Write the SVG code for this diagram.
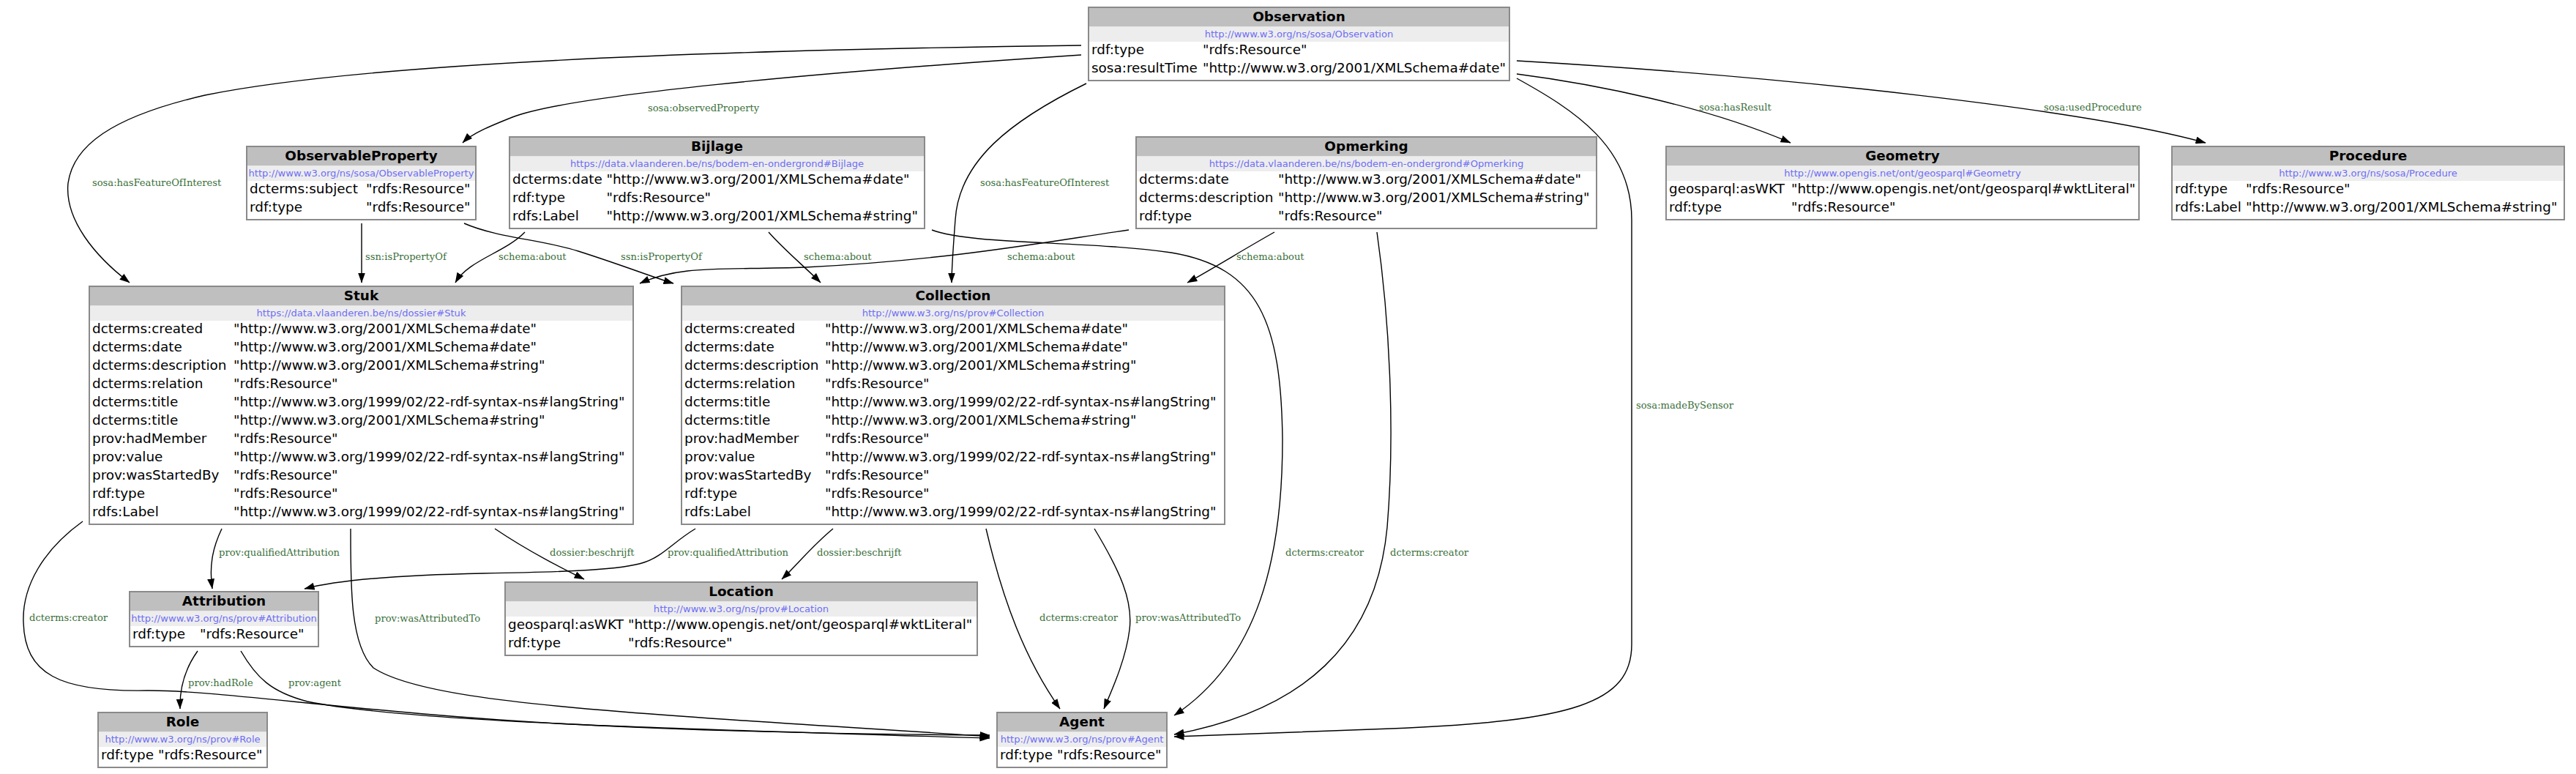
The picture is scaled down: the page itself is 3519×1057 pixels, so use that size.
<svg xmlns="http://www.w3.org/2000/svg" width="3519" height="1057" viewBox="0 0 3519 1057">
<style>
.box{fill:#fff;stroke:#8a8a8a;stroke-width:2}
.hdr{fill:#bfbfbf}
.ubg{fill:#ededed}
.title{font-family:"DejaVu Sans",sans-serif;font-weight:bold;font-size:18.4px;text-anchor:middle;fill:#000}
.url{font-family:"DejaVu Sans",sans-serif;font-size:13.1px;text-anchor:middle;fill:#6e6ef5}
.attr{font-family:"DejaVu Sans",sans-serif;font-size:18.4px;fill:#000}
.edge{fill:none;stroke:#000;stroke-width:1.4;marker-end:url(#arrow)}
.lbl{font-family:"DejaVu Serif",serif;font-size:13.1px;fill:#3b703b}
</style>
<defs>
<marker id="arrow" viewBox="0 0 14 10" refX="13.5" refY="5" markerWidth="14" markerHeight="10" markerUnits="userSpaceOnUse" orient="auto"><path d="M0,0 L14,5 L0,10 z" fill="#000"/></marker>
</defs>
<rect width="3519" height="1057" fill="#fff"/>
<g id="edges">
<path class="edge" d="M1477,62 C1000,68 500,85 280,130 C150,160 100,200 93,250 C88,300 130,350 177,386"/>
<text class="lbl" x="126" y="254">sosa:hasFeatureOfInterest</text>
<path class="edge" d="M1477,75 C1100,100 780,130 700,160 C670,172 645,182 632,195"/>
<text class="lbl" x="885" y="152">sosa:observedProperty</text>
<path class="edge" d="M1484,114 C1380,165 1310,220 1305,300 C1302,340 1300,365 1300,386"/>
<text class="lbl" x="1339" y="254">sosa:hasFeatureOfInterest</text>
<path class="edge" d="M494,305 L494,386"/>
<text class="lbl" x="499" y="355">ssn:isPropertyOf</text>
<path class="edge" d="M634,305 C680,325 740,327 790,343 C850,362 890,378 920,387"/>
<text class="lbl" x="848" y="355">ssn:isPropertyOf</text>
<path class="edge" d="M717,317 C690,345 640,355 622,386"/>
<text class="lbl" x="681" y="355">schema:about</text>
<path class="edge" d="M1050,317 C1070,340 1100,365 1121,386"/>
<text class="lbl" x="1098" y="355">schema:about</text>
<path class="edge" d="M1542,314 C1430,330 1300,355 1100,365 C980,369 930,362 874,387"/>
<text class="lbl" x="1376" y="355">schema:about</text>
<path class="edge" d="M1741,317 C1700,340 1660,365 1622,386"/>
<text class="lbl" x="1689" y="355">schema:about</text>
<path class="edge" d="M1273,314 C1330,335 1480,328 1600,345 C1720,365 1750,440 1752,600 C1752,760 1720,900 1604,977"/>
<text class="lbl" x="1756" y="759">dcterms:creator</text>
<path class="edge" d="M1881,317 C1900,450 1905,600 1895,720 C1880,880 1780,970 1604,1003"/>
<text class="lbl" x="1899" y="759">dcterms:creator</text>
<path class="edge" d="M2072,107 C2150,150 2229,200 2229,300 L2229,880 C2229,960 2150,985 1900,995 C1750,1000 1650,1005 1604,1006"/>
<text class="lbl" x="2235" y="558">sosa:madeBySensor</text>
<path class="edge" d="M2072,101 C2180,115 2330,145 2446,195"/>
<text class="lbl" x="2321" y="151">sosa:hasResult</text>
<path class="edge" d="M2072,83 C2450,105 2850,150 3013,195"/>
<text class="lbl" x="2792" y="151">sosa:usedProcedure</text>
<path class="edge" d="M303,722 C292,745 285,770 290,804"/>
<text class="lbl" x="299" y="759">prov:qualifiedAttribution</text>
<path class="edge" d="M950,722 C920,740 905,760 880,768 C850,778 780,781 660,783 C560,785 470,790 416,804"/>
<text class="lbl" x="912" y="759">prov:qualifiedAttribution</text>
<path class="edge" d="M676,722 C710,745 755,770 798,791"/>
<text class="lbl" x="751" y="759">dossier:beschrijft</text>
<path class="edge" d="M1138,722 C1110,745 1090,770 1068,791"/>
<text class="lbl" x="1116" y="759">dossier:beschrijft</text>
<path class="edge" d="M113,712 C60,750 30,800 32,850 C34,920 80,945 200,943 C300,942 500,975 800,990 C1000,1000 1200,1003 1352,1004"/>
<text class="lbl" x="40" y="848">dcterms:creator</text>
<path class="edge" d="M479,722 C479,800 478,880 510,912 C560,945 700,960 850,972 C1050,988 1250,998 1352,1006"/>
<text class="lbl" x="512" y="849">prov:wasAttributedTo</text>
<path class="edge" d="M270,889 C255,910 245,935 246,968"/>
<text class="lbl" x="257" y="937">prov:hadRole</text>
<path class="edge" d="M329,889 C350,925 370,945 420,958 C550,985 900,995 1352,1008"/>
<text class="lbl" x="394" y="937">prov:agent</text>
<path class="edge" d="M1347,722 C1370,820 1400,900 1448,968"/>
<text class="lbl" x="1420" y="848">dcterms:creator</text>
<path class="edge" d="M1495,722 C1530,780 1548,820 1543,860 C1538,900 1520,940 1508,968"/>
<text class="lbl" x="1551" y="848">prov:wasAttributedTo</text>
</g>
<g id="node-Observation">
<rect class="box" x="1487" y="10" width="575" height="100"/>
<rect class="hdr" x="1488" y="11" width="573" height="25.5"/>
<rect class="ubg" x="1488" y="36.5" width="573" height="20.5"/>
<text class="title" x="1774.5" y="29">Observation</text>
<text class="url" x="1774.5" y="51">http://www.w3.org/ns/sosa/Observation</text>
<text class="attr" x="1491" y="74">rdf:type</text><text class="attr" x="1643" y="74">"rdfs:Resource"</text>
<text class="attr" x="1491" y="99">sosa:resultTime</text><text class="attr" x="1643" y="99">"http://www.w3.org/2001/XMLSchema#date"</text>
</g>
<g id="node-ObservableProperty">
<rect class="box" x="337" y="200" width="313" height="100"/>
<rect class="hdr" x="338" y="201" width="311" height="25.5"/>
<rect class="ubg" x="338" y="226.5" width="311" height="20.5"/>
<text class="title" x="493.5" y="219">ObservableProperty</text>
<text class="url" x="493.5" y="241">http://www.w3.org/ns/sosa/ObservableProperty</text>
<text class="attr" x="341" y="264">dcterms:subject</text><text class="attr" x="500" y="264">"rdfs:Resource"</text>
<text class="attr" x="341" y="289">rdf:type</text><text class="attr" x="500" y="289">"rdfs:Resource"</text>
</g>
<g id="node-Bijlage">
<rect class="box" x="696" y="187" width="567" height="125"/>
<rect class="hdr" x="697" y="188" width="565" height="25.5"/>
<rect class="ubg" x="697" y="213.5" width="565" height="20.5"/>
<text class="title" x="979.5" y="206">Bijlage</text>
<text class="url" x="979.5" y="228">https://data.vlaanderen.be/ns/bodem-en-ondergrond#Bijlage</text>
<text class="attr" x="700" y="251">dcterms:date</text><text class="attr" x="828.5" y="251">"http://www.w3.org/2001/XMLSchema#date"</text>
<text class="attr" x="700" y="276">rdf:type</text><text class="attr" x="828.5" y="276">"rdfs:Resource"</text>
<text class="attr" x="700" y="301">rdfs:Label</text><text class="attr" x="828.5" y="301">"http://www.w3.org/2001/XMLSchema#string"</text>
</g>
<g id="node-Opmerking">
<rect class="box" x="1552" y="187" width="629" height="125"/>
<rect class="hdr" x="1553" y="188" width="627" height="25.5"/>
<rect class="ubg" x="1553" y="213.5" width="627" height="20.5"/>
<text class="title" x="1866.5" y="206">Opmerking</text>
<text class="url" x="1866.5" y="228">https://data.vlaanderen.be/ns/bodem-en-ondergrond#Opmerking</text>
<text class="attr" x="1556" y="251">dcterms:date</text><text class="attr" x="1746" y="251">"http://www.w3.org/2001/XMLSchema#date"</text>
<text class="attr" x="1556" y="276">dcterms:description</text><text class="attr" x="1746" y="276">"http://www.w3.org/2001/XMLSchema#string"</text>
<text class="attr" x="1556" y="301">rdf:type</text><text class="attr" x="1746" y="301">"rdfs:Resource"</text>
</g>
<g id="node-Geometry">
<rect class="box" x="2276" y="200" width="646" height="100"/>
<rect class="hdr" x="2277" y="201" width="644" height="25.5"/>
<rect class="ubg" x="2277" y="226.5" width="644" height="20.5"/>
<text class="title" x="2599" y="219">Geometry</text>
<text class="url" x="2599" y="241">http://www.opengis.net/ont/geosparql#Geometry</text>
<text class="attr" x="2280" y="264">geosparql:asWKT</text><text class="attr" x="2447" y="264">"http://www.opengis.net/ont/geosparql#wktLiteral"</text>
<text class="attr" x="2280" y="289">rdf:type</text><text class="attr" x="2447" y="289">"rdfs:Resource"</text>
</g>
<g id="node-Procedure">
<rect class="box" x="2967" y="200" width="536" height="100"/>
<rect class="hdr" x="2968" y="201" width="534" height="25.5"/>
<rect class="ubg" x="2968" y="226.5" width="534" height="20.5"/>
<text class="title" x="3235" y="219">Procedure</text>
<text class="url" x="3235" y="241">http://www.w3.org/ns/sosa/Procedure</text>
<text class="attr" x="2971" y="264">rdf:type</text><text class="attr" x="3068" y="264">"rdfs:Resource"</text>
<text class="attr" x="2971" y="289">rdfs:Label</text><text class="attr" x="3068" y="289">"http://www.w3.org/2001/XMLSchema#string"</text>
</g>
<g id="node-Stuk">
<rect class="box" x="122" y="391" width="743" height="325"/>
<rect class="hdr" x="123" y="392" width="741" height="25.5"/>
<rect class="ubg" x="123" y="417.5" width="741" height="20.5"/>
<text class="title" x="493.5" y="410">Stuk</text>
<text class="url" x="493.5" y="432">https://data.vlaanderen.be/ns/dossier#Stuk</text>
<text class="attr" x="126" y="455">dcterms:created</text><text class="attr" x="319" y="455">"http://www.w3.org/2001/XMLSchema#date"</text>
<text class="attr" x="126" y="480">dcterms:date</text><text class="attr" x="319" y="480">"http://www.w3.org/2001/XMLSchema#date"</text>
<text class="attr" x="126" y="505">dcterms:description</text><text class="attr" x="319" y="505">"http://www.w3.org/2001/XMLSchema#string"</text>
<text class="attr" x="126" y="530">dcterms:relation</text><text class="attr" x="319" y="530">"rdfs:Resource"</text>
<text class="attr" x="126" y="555">dcterms:title</text><text class="attr" x="319" y="555">"http://www.w3.org/1999/02/22-rdf-syntax-ns#langString"</text>
<text class="attr" x="126" y="580">dcterms:title</text><text class="attr" x="319" y="580">"http://www.w3.org/2001/XMLSchema#string"</text>
<text class="attr" x="126" y="605">prov:hadMember</text><text class="attr" x="319" y="605">"rdfs:Resource"</text>
<text class="attr" x="126" y="630">prov:value</text><text class="attr" x="319" y="630">"http://www.w3.org/1999/02/22-rdf-syntax-ns#langString"</text>
<text class="attr" x="126" y="655">prov:wasStartedBy</text><text class="attr" x="319" y="655">"rdfs:Resource"</text>
<text class="attr" x="126" y="680">rdf:type</text><text class="attr" x="319" y="680">"rdfs:Resource"</text>
<text class="attr" x="126" y="705">rdfs:Label</text><text class="attr" x="319" y="705">"http://www.w3.org/1999/02/22-rdf-syntax-ns#langString"</text>
</g>
<g id="node-Collection">
<rect class="box" x="931" y="391" width="742" height="325"/>
<rect class="hdr" x="932" y="392" width="740" height="25.5"/>
<rect class="ubg" x="932" y="417.5" width="740" height="20.5"/>
<text class="title" x="1302" y="410">Collection</text>
<text class="url" x="1302" y="432">http://www.w3.org/ns/prov#Collection</text>
<text class="attr" x="935" y="455">dcterms:created</text><text class="attr" x="1127" y="455">"http://www.w3.org/2001/XMLSchema#date"</text>
<text class="attr" x="935" y="480">dcterms:date</text><text class="attr" x="1127" y="480">"http://www.w3.org/2001/XMLSchema#date"</text>
<text class="attr" x="935" y="505">dcterms:description</text><text class="attr" x="1127" y="505">"http://www.w3.org/2001/XMLSchema#string"</text>
<text class="attr" x="935" y="530">dcterms:relation</text><text class="attr" x="1127" y="530">"rdfs:Resource"</text>
<text class="attr" x="935" y="555">dcterms:title</text><text class="attr" x="1127" y="555">"http://www.w3.org/1999/02/22-rdf-syntax-ns#langString"</text>
<text class="attr" x="935" y="580">dcterms:title</text><text class="attr" x="1127" y="580">"http://www.w3.org/2001/XMLSchema#string"</text>
<text class="attr" x="935" y="605">prov:hadMember</text><text class="attr" x="1127" y="605">"rdfs:Resource"</text>
<text class="attr" x="935" y="630">prov:value</text><text class="attr" x="1127" y="630">"http://www.w3.org/1999/02/22-rdf-syntax-ns#langString"</text>
<text class="attr" x="935" y="655">prov:wasStartedBy</text><text class="attr" x="1127" y="655">"rdfs:Resource"</text>
<text class="attr" x="935" y="680">rdf:type</text><text class="attr" x="1127" y="680">"rdfs:Resource"</text>
<text class="attr" x="935" y="705">rdfs:Label</text><text class="attr" x="1127" y="705">"http://www.w3.org/1999/02/22-rdf-syntax-ns#langString"</text>
</g>
<g id="node-Attribution">
<rect class="box" x="177" y="808" width="258" height="75"/>
<rect class="hdr" x="178" y="809" width="256" height="25.5"/>
<rect class="ubg" x="178" y="834.5" width="256" height="20.5"/>
<text class="title" x="306" y="827">Attribution</text>
<text class="url" x="306" y="849">http://www.w3.org/ns/prov#Attribution</text>
<text class="attr" x="181" y="872">rdf:type</text><text class="attr" x="273" y="872">"rdfs:Resource"</text>
</g>
<g id="node-Location">
<rect class="box" x="690" y="795" width="645" height="100"/>
<rect class="hdr" x="691" y="796" width="643" height="25.5"/>
<rect class="ubg" x="691" y="821.5" width="643" height="20.5"/>
<text class="title" x="1012.5" y="814">Location</text>
<text class="url" x="1012.5" y="836">http://www.w3.org/ns/prov#Location</text>
<text class="attr" x="694" y="859">geosparql:asWKT</text><text class="attr" x="858" y="859">"http://www.opengis.net/ont/geosparql#wktLiteral"</text>
<text class="attr" x="694" y="884">rdf:type</text><text class="attr" x="858" y="884">"rdfs:Resource"</text>
</g>
<g id="node-Role">
<rect class="box" x="134" y="973" width="231" height="75"/>
<rect class="hdr" x="135" y="974" width="229" height="25.5"/>
<rect class="ubg" x="135" y="999.5" width="229" height="20.5"/>
<text class="title" x="249.5" y="992">Role</text>
<text class="url" x="249.5" y="1014">http://www.w3.org/ns/prov#Role</text>
<text class="attr" x="138" y="1037">rdf:type</text><text class="attr" x="216" y="1037">"rdfs:Resource"</text>
</g>
<g id="node-Agent">
<rect class="box" x="1362" y="973" width="232" height="75"/>
<rect class="hdr" x="1363" y="974" width="230" height="25.5"/>
<rect class="ubg" x="1363" y="999.5" width="230" height="20.5"/>
<text class="title" x="1478" y="992">Agent</text>
<text class="url" x="1478" y="1014">http://www.w3.org/ns/prov#Agent</text>
<text class="attr" x="1366" y="1037">rdf:type</text><text class="attr" x="1444" y="1037">"rdfs:Resource"</text>
</g>
</svg>
